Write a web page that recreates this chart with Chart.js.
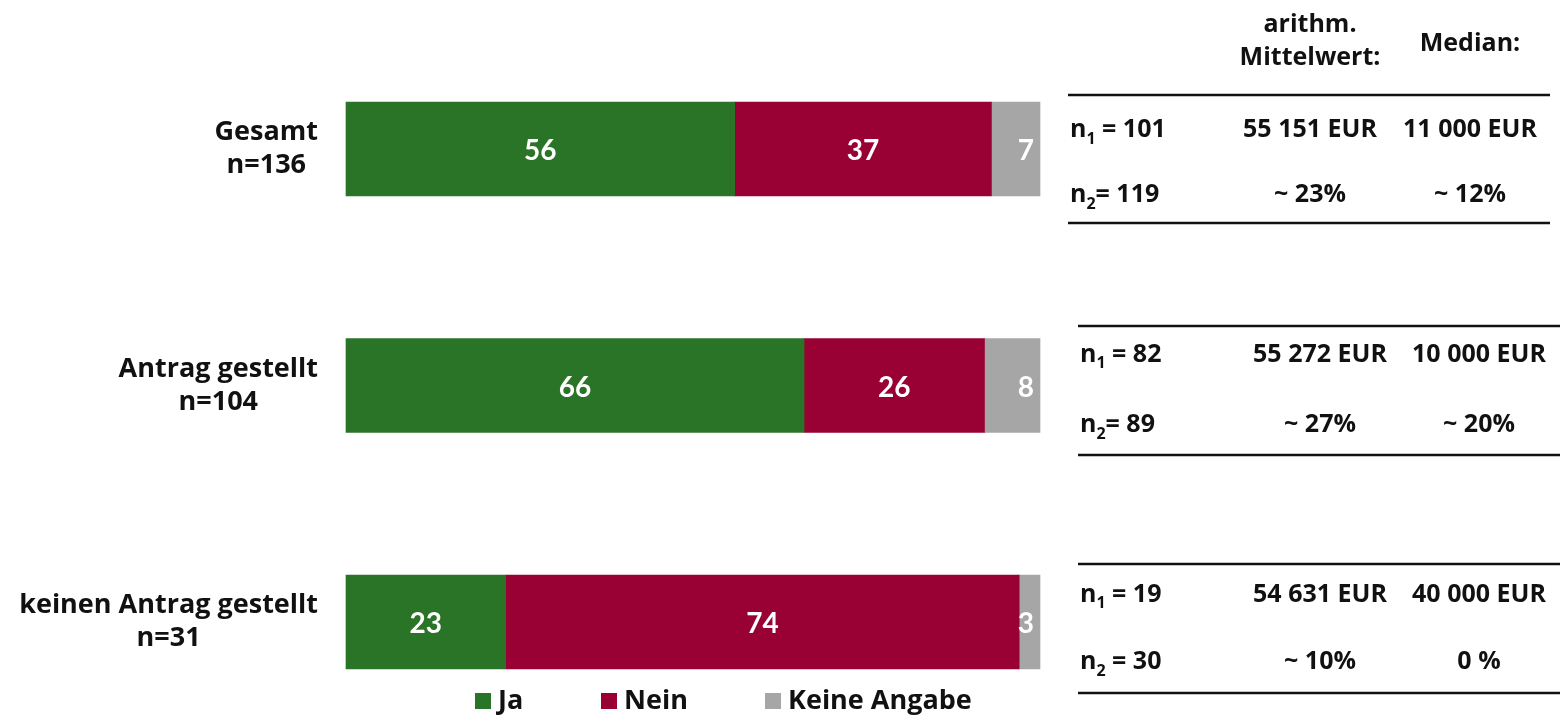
<!DOCTYPE html>
<html>
<head>
<meta charset="utf-8">
<script src="https://cdn.jsdelivr.net/npm/chart.js@4.4.1/dist/chart.umd.min.js"></script>
<style>
html,body{margin:0;padding:0;background:#fff;}
#wrap{width:1562px;height:716px;}
</style>
</head>
<body>
<div id="wrap"><canvas id="c" width="1562" height="716"></canvas></div>
<script>
// ---- data ----
const categories = [["Gesamt", "n=136"], ["Antrag gestellt", "n=104"], ["keinen Antrag gestellt", "n=31"]];
const seriesLabels = ["Ja", "Nein", "Keine Angabe"];
const jaValues = [56, 66, 23];
const neinValues = [37, 26, 74];
const keineValues = [7, 8, 3];
const tableHeaders = [["arithm.", "Mittelwert:"], ["Median:"]];
const n1Values = [" = 101", " = 82", " = 19"];
const n2Values = ["= 119", "= 89", " = 30"];
const meanEUR = ["55 151 EUR", "55 272 EUR", "54 631 EUR"];
const medianEUR = ["11 000 EUR", "10 000 EUR", "40 000 EUR"];
const meanPct = ["~ 23%", "~ 27%", "~ 10%"];
const medianPct = ["~ 12%", "~ 20%", "0 %"];

// ---- styles ----
const colors = ["#2A7427", "#990033", "#A6A6A6"];
const FONT = "'Open Sans', Lato, sans-serif";
const LFONT = "Lato, 'Open Sans', sans-serif";
// table geometry per group (offsets relative to the bar's centre)
const tableLayout = [
  {x0: 1068, x1: 1550, nX: 1070, meanX: 1310, medX: 1470, lineTop: -54, lineBot: 74, row1: -19, row2: 46},
  {x0: 1078, x1: 1560, nX: 1080, meanX: 1320, medX: 1479, lineTop: -59.5, lineBot: 69.5, row1: -31, row2: 39.5},
  {x0: 1078, x1: 1560, nX: 1080, meanX: 1320, medX: 1479, lineTop: -58, lineBot: 71, row1: -27.5, row2: 40}
];

const overlay = {
  id: 'overlay',
  afterDatasetsDraw(chart) {
    const ctx = chart.ctx;
    const yScale = chart.scales.y;
    ctx.save();
    // value labels in bars
    ctx.textBaseline = 'middle';
    ctx.font = "bold 28px " + LFONT;
    ctx.fillStyle = '#ffffff';
    chart.data.datasets.forEach((ds, di) => {
      const meta = chart.getDatasetMeta(di);
      meta.data.forEach((el, i) => {
        const v = ds.data[i];
        if (di === 2) {
          ctx.textAlign = 'right';
          ctx.fillText(String(v), el.x - 6, el.y + 2);
        } else {
          ctx.textAlign = 'center';
          ctx.fillText(String(v), (el.x + el.base) / 2, el.y + 2);
        }
      });
    });
    // category labels: block right-aligned, lines centred within block
    ctx.fillStyle = '#111111';
    ctx.font = "bold 27px " + FONT;
    ctx.textAlign = 'center';
    categories.forEach((lines, i) => {
      const yc = yScale.getPixelForValue(i);
      const w = Math.max(...lines.map(l => ctx.measureText(l).width));
      const right = 318;
      const cx = right - w / 2;
      const lh = 33;
      lines.forEach((l, k) => {
        ctx.fillText(l, cx, yc + (k - (lines.length - 1) / 2) * lh);
      });
    });
    // table headers
    ctx.font = "bold 25px " + FONT;
    ctx.fillText(tableHeaders[0][0], 1310, 25);
    ctx.fillText(tableHeaders[0][1], 1310, 58);
    ctx.fillText(tableHeaders[1][0], 1470, 44);
    // tables
    const drawN = (sub, rest, x, y) => {
      ctx.textAlign = 'left';
      ctx.font = "bold 25px " + FONT;
      ctx.fillText('n', x, y);
      let xx = x + ctx.measureText('n').width;
      ctx.font = "bold 16px " + FONT;
      ctx.fillText(sub, xx, y + 9);
      xx += ctx.measureText(sub).width;
      ctx.font = "bold 25px " + FONT;
      ctx.fillText(rest, xx, y);
    };
    tableLayout.forEach((t, i) => {
      const yc = yScale.getPixelForValue(i);
      ctx.strokeStyle = '#111111';
      ctx.lineWidth = 2.5;
      [t.lineTop, t.lineBot].forEach(off => {
        ctx.beginPath();
        ctx.moveTo(t.x0, yc + off);
        ctx.lineTo(t.x1, yc + off);
        ctx.stroke();
      });
      const y1 = yc + t.row1, y2 = yc + t.row2;
      drawN('1', n1Values[i], t.nX, y1);
      drawN('2', n2Values[i], t.nX, y2);
      ctx.font = "bold 25px " + FONT;
      ctx.textAlign = 'center';
      ctx.fillText(meanEUR[i], t.meanX, y1);
      ctx.fillText(medianEUR[i], t.medX, y1);
      ctx.fillText(meanPct[i], t.meanX, y2);
      ctx.fillText(medianPct[i], t.medX, y2);
    });
    // legend
    const legendX = [475, 601, 765];
    const ly = 701;
    ctx.font = "bold 27px " + FONT;
    ctx.textAlign = 'left';
    chart.data.datasets.forEach((ds, di) => {
      ctx.fillStyle = ds.backgroundColor;
      ctx.fillRect(legendX[di], ly - 8, 16, 16);
      ctx.fillStyle = '#111111';
      ctx.fillText(ds.label, legendX[di] + 23, ly);
    });
    ctx.restore();
  }
};

new Chart(document.getElementById('c'), {
  type: 'bar',
  data: {
    labels: categories,
    datasets: [
      {label: seriesLabels[0], data: jaValues, backgroundColor: colors[0]},
      {label: seriesLabels[1], data: neinValues, backgroundColor: colors[1]},
      {label: seriesLabels[2], data: keineValues, backgroundColor: colors[2]}
    ].map(d => Object.assign(d, {barThickness: 94, clip: false, borderWidth: 0}))
  },
  options: {
    indexAxis: 'y',
    responsive: false,
    animation: false,
    layout: {padding: {left: 346, right: 522, top: 149, bottom: 94}},
    plugins: {legend: {display: false}, tooltip: {enabled: false}},
    scales: {
      x: {stacked: true, min: 0, max: 100, display: false},
      y: {stacked: true, offset: false, display: false, grid: {offset: false}}
    }
  },
  plugins: [overlay]
});
</script>
</body>
</html>
